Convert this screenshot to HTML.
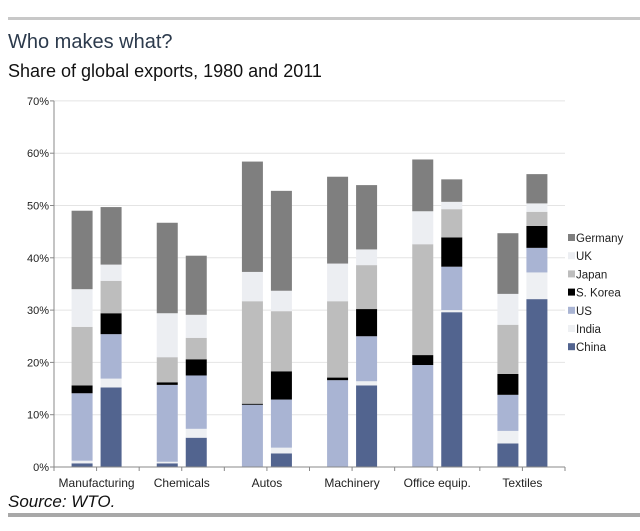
<!DOCTYPE html>
<html><head><meta charset="utf-8"><style>
body{margin:0;background:#fff;width:640px;height:526px;overflow:hidden;font-family:"Liberation Sans",sans-serif}
</style></head><body>
<svg width="640" height="526" xmlns="http://www.w3.org/2000/svg">
<rect x="8" y="17" width="632" height="3" fill="#c8c8c8"/>
<text x="8" y="48" font-size="20" fill="#2c3a4c">Who makes what?</text>
<text x="8" y="77" font-size="18" fill="#111">Share of global exports, 1980 and 2011</text>
<g id="grid"></g><g id="bars"></g><g id="axes"></g><g id="legend"></g>
<text x="8" y="507" font-size="17" font-style="italic" fill="#111">Source: WTO.</text>
<rect x="8" y="513" width="632" height="4" fill="#a8a8a8"/>
</svg>
<script>
const categories=["Manufacturing","Chemicals","Autos","Machinery","Office equip.","Textiles"];
const series=["China","India","US","S. Korea","Japan","UK","Germany"];
const colors=["#52648f","#eef0f3","#a9b4d3","#000000","#bdbdbd","#eceef2","#7f7f7f"];
const yTicks=[0,10,20,30,40,50,60,70];
// values per bar [China,India,US,Korea,Japan,UK,Germany]
const v1980=[[0.7,0.5,12.9,1.5,11.2,7.2,15.0],[0.7,0.3,14.7,0.5,4.8,8.4,17.3],[0,0,11.9,0.2,19.6,5.6,21.1],[0,0,16.6,0.5,14.6,7.2,16.6],[0,0,19.5,1.9,21.2,6.3,9.9],[4.5,2.4,6.9,4.0,9.4,5.9,11.6]];
const v2011=[[15.2,1.7,8.5,4.0,6.2,3.1,11.0],[5.6,1.7,10.2,3.1,4.1,4.4,11.3],[2.6,1.1,9.2,5.4,11.5,3.9,19.1],[15.6,0.8,8.6,5.2,8.4,3.0,12.3],[29.6,0.4,8.3,5.6,5.4,1.4,4.3],[32.1,5.1,4.7,4.2,2.7,1.6,5.6]];
const NS="http://www.w3.org/2000/svg";
const x0=54,x1=565,y0=467,pxPer=5.23;
const cw=(x1-x0)/categories.length;
const yS=v=>y0-v*pxPer;
const xC=i=>x0+cw*(i+0.5);
function mk(tag,attrs,parent){const e=document.createElementNS(NS,tag);for(const k in attrs)e.setAttribute(k,attrs[k]);document.getElementById(parent).appendChild(e);return e;}
yTicks.forEach(t=>{
 if(t>0){const g=mk("line",{x1:x0,x2:x1,y1:yS(t),y2:yS(t),stroke:"#e4e4e4","stroke-width":1},"grid");
 
 }
 const tk=mk("line",{x1:x0-4,x2:x0,y1:yS(t),y2:yS(t),stroke:"#888"},"axes");
 
 
 const l=mk("text",{x:x0-5,y:yS(t)+4,"font-size":11,"text-anchor":"end",fill:"#222"},"axes");l.textContent=t+"%";
 
 
});
const ya=mk("line",{x1:x0,x2:x0,y1:yS(70),y2:y0,stroke:"#888"},"axes");


const xa=mk("line",{x1:x0,x2:x1,y1:y0,y2:y0,stroke:"#888"},"axes");


for(let i=0;i<=categories.length*2;i++){const t=mk("line",{x1:x0+cw/2*i,x2:x0+cw/2*i,y1:y0,y2:y0+4,stroke:"#888"},"axes");
 
 }
categories.forEach((c,i)=>{
 const l=mk("text",{x:xC(i),y:487,"font-size":12,"text-anchor":"middle",fill:"#222"},"axes");l.textContent=c;
 
 
 [[v1980[i],-25],[v2011[i],4]].forEach(([vals,off],b)=>{
  let cum=0;
  vals.forEach((v,s)=>{
   if(v<=0)return;
   const r=mk("rect",{x:xC(i)+off,width:21,y:yS(cum+v),height:v*pxPer,fill:colors[s]},"bars");
   
   
   cum+=v;
  });
 });
});
series.slice().reverse().forEach((s,j)=>{
 const idx=series.length-1-j, y=238+j*18.2;
 const r=mk("rect",{x:568,y:y-4,width:7,height:7,fill:colors[idx]},"legend");
 
 
 const t=mk("text",{x:576,y:y+4,"font-size":11.5,fill:"#222"},"legend");t.textContent=s;
 
 
});
</script>
</body></html>
